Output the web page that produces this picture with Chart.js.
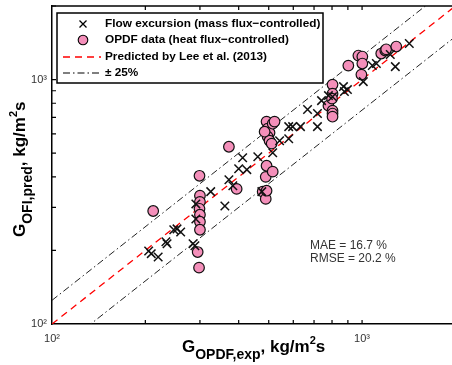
<!DOCTYPE html>
<html>
<head>
<meta charset="UTF-8">
<title>OPDF vs OFI</title>
<script src="https://cdn.jsdelivr.net/npm/chart.js"></script>
<style>
  body { margin: 0; background: #fff; }
  #wrap { width: 452px; height: 365px; }
</style>
</head>
<body>
<div id="wrap"><canvas id="chart"></canvas></div>
<script>
// Flow excursion (mass flux-controlled)
const crossX = [205, 209, 220, 233, 235, 247, 253, 260, 285, 289, 291, 291, 325, 361, 372, 383, 400, 412, 425, 461, 475, 515, 542, 580, 580, 597, 633, 667, 718, 718, 740, 779, 803, 871, 897, 877, 1009, 1079, 1112, 1233, 1280, 1420];
const crossY = [199, 194, 188, 217, 213, 243, 245, 238, 213, 209, 310, 269, 348, 304, 389, 368, 432, 479, 428, 483, 348, 502, 562, 573, 642, 642, 642, 754, 726, 642, 820, 860, 851, 936, 910, 893, 981, 1141, 1163, 1266, 1130, 1405];
// OPDF data (heat flux-controlled)
const circX = [212, 295, 298, 299, 300, 300, 299, 300, 300, 300, 372, 394, 478, 489, 492, 489, 492, 515, 492, 496, 503, 496, 503, 515, 522, 511, 485, 779, 803, 803, 800, 803, 803, 803, 903, 973, 1002, 1002, 995, 1153, 1188, 1196, 1289];
const circY = [290, 197, 170, 404, 335, 316, 296, 280, 262, 243, 531, 357, 348, 325, 351, 400, 444, 420, 673, 630, 606, 584, 562, 660, 673, 547, 612, 782, 954, 876, 836, 746, 726, 705, 1141, 1254, 1242, 1163, 1048, 1278, 1315, 1330, 1365];
// reference lines
const lineX = [100, 2000];
const predY = [100, 2000];
const upperY = [125, 2500];
const lowerY = [75, 1500];

const xTicks = [100, 200, 300, 400, 500, 600, 700, 800, 900, 1000];
const yTicks = [100, 200, 300, 400, 500, 600, 700, 800, 900, 1000, 2000];

function toPoints(xs, ys) {
    return xs.map((x, i) => ({ x: x, y: ys[i] }));
}
function tickLabel(v) {
    if (v === 100) return '10\u00b2';
    if (v === 1000) return '10\u00b3';
    return '';
}

const PINK = '#f48fba';
const FONT = '"Liberation Sans", Arial, sans-serif';

// inward tick marks + top border
const tickPlugin = {
    id: 'inTicks',
    afterDraw(chart) {
        const ctx = chart.ctx, a = chart.chartArea;
        const xs = chart.scales.x, ys = chart.scales.y;
        ctx.save();
        ctx.strokeStyle = '#000';
        ctx.lineWidth = 1.2;
        ctx.beginPath();
        xTicks.forEach(v => {
            if (v === 100) return;
            const px = xs.getPixelForValue(v);
            ctx.moveTo(px, a.bottom); ctx.lineTo(px, a.bottom - 4);
            ctx.moveTo(px, a.top); ctx.lineTo(px, a.top + 4);
        });
        yTicks.forEach(v => {
            if (v === 100 || v > ys.max) return;
            const py = ys.getPixelForValue(v);
            ctx.moveTo(a.left, py); ctx.lineTo(a.left + 4, py);
        });
        ctx.stroke();
        ctx.lineWidth = 1.5;
        ctx.beginPath();
        ctx.moveTo(a.left, a.top); ctx.lineTo(a.right, a.top);
        ctx.stroke();
        ctx.restore();
    }
};

// draws text pieces with sub/superscripts one after the other
function drawPieces(ctx, pieces, x, y) {
    let cx = x;
    pieces.forEach(p => {
        ctx.font = 'bold ' + p.size + 'px ' + FONT;
        ctx.fillText(p.t, cx, y + p.dy);
        cx += ctx.measureText(p.t).width;
    });
}

const titlePlugin = {
    id: 'axisTitles',
    afterDraw(chart) {
        const ctx = chart.ctx;
        ctx.save();
        ctx.fillStyle = '#000';
        ctx.textBaseline = 'alphabetic';
        ctx.textAlign = 'left';
        drawPieces(ctx, [
            { t: 'G', size: 17, dy: 0 },
            { t: 'OPDF,exp', size: 14, dy: 7 },
            { t: ', kg/m', size: 17, dy: 0 },
            { t: '2', size: 11, dy: -8 },
            { t: 's', size: 17, dy: 0 }
        ], 182, 352);
        ctx.translate(25, 237);
        ctx.rotate(-Math.PI / 2);
        drawPieces(ctx, [
            { t: 'G', size: 17, dy: 0 },
            { t: 'OFI,pred', size: 14, dy: 7 },
            { t: ', kg/m', size: 17, dy: 0 },
            { t: '2', size: 11, dy: -8 },
            { t: 's', size: 17, dy: 0 }
        ], 0, 0);
        ctx.restore();

        ctx.save();
        ctx.fillStyle = '#333';
        ctx.font = '12px ' + FONT;
        ctx.fillText('MAE = 16.7 %', 310, 249);
        ctx.fillText('RMSE = 20.2 %', 310, 262);
        ctx.restore();
    }
};

const legendPlugin = {
    id: 'boxLegend',
    afterDatasetsDraw(chart) {
        const ctx = chart.ctx;
        const bx = 57, by = 13, bw = 266, bh = 70;
        ctx.save();
        ctx.fillStyle = '#fff';
        ctx.fillRect(bx, by, bw, bh);
        ctx.strokeStyle = '#000';
        ctx.lineWidth = 1.5;
        ctx.strokeRect(bx, by, bw, bh);

        const rows = [24, 40, 57, 73];
        const mx = 83, tx = 105;
        // cross
        ctx.lineWidth = 1.3;
        ctx.beginPath();
        ctx.moveTo(mx - 3.5, rows[0] - 3.5); ctx.lineTo(mx + 3.5, rows[0] + 3.5);
        ctx.moveTo(mx + 3.5, rows[0] - 3.5); ctx.lineTo(mx - 3.5, rows[0] + 3.5);
        ctx.stroke();
        // circle
        ctx.beginPath();
        ctx.arc(mx, rows[1], 4.8, 0, Math.PI * 2);
        ctx.fillStyle = PINK;
        ctx.fill();
        ctx.lineWidth = 1.1;
        ctx.stroke();
        // red dashed
        ctx.strokeStyle = '#ff0000';
        ctx.lineWidth = 1.5;
        ctx.setLineDash([7, 5]);
        ctx.beginPath();
        ctx.moveTo(63, rows[2]); ctx.lineTo(101, rows[2]);
        ctx.stroke();
        // dash dot
        ctx.strokeStyle = '#000';
        ctx.lineWidth = 1.2;
        ctx.setLineDash([7, 3, 1.5, 3]);
        ctx.beginPath();
        ctx.moveTo(63, rows[3]); ctx.lineTo(101, rows[3]);
        ctx.stroke();
        ctx.setLineDash([]);

        ctx.fillStyle = '#000';
        ctx.textBaseline = 'middle';
        ctx.font = 'bold 11.8px ' + FONT;
        ctx.fillText('Flow excursion (mass flux\u2212controlled)', tx, rows[0]);
        ctx.fillText('OPDF data (heat flux\u2212controlled)', tx, rows[1]);
        ctx.fillText('Predicted by Lee et al. (2013)', tx, rows[2]);
        ctx.fillText('\u00b1 25%', tx, rows[3]);
        ctx.restore();
    }
};

new Chart(document.getElementById('chart'), {
    type: 'scatter',
    data: {
        datasets: [
            {
                label: 'Flow excursion (mass flux-controlled)',
                data: toPoints(crossX, crossY),
                pointStyle: 'crossRot',
                radius: 6,
                borderColor: '#111',
                borderWidth: 1.5,
                order: 1
            },
            {
                label: 'OPDF data (heat flux-controlled)',
                data: toPoints(circX, circY),
                pointStyle: 'circle',
                radius: 5.3,
                backgroundColor: PINK,
                borderColor: '#111',
                borderWidth: 1.2,
                order: 1
            },
            {
                label: 'Predicted by Lee et al. (2013)',
                type: 'line',
                data: toPoints(lineX, predY),
                borderColor: '#ff0000',
                borderWidth: 1.3,
                borderDash: [7, 5],
                pointRadius: 0,
                order: 3
            },
            {
                label: '+25%',
                type: 'line',
                data: toPoints(lineX, upperY),
                borderColor: '#222',
                borderWidth: 1,
                borderDash: [7, 3, 1.5, 3],
                pointRadius: 0,
                order: 3
            },
            {
                label: '-25%',
                type: 'line',
                data: toPoints(lineX, lowerY),
                borderColor: '#222',
                borderWidth: 1,
                borderDash: [7, 3, 1.5, 3],
                pointRadius: 0,
                order: 3
            }
        ]
    },
    options: {
        responsive: true,
        maintainAspectRatio: false,
        animation: false,
        layout: { autoPadding: false, padding: { top: 6, right: 0, left: 0, bottom: 0 } },
        plugins: {
            legend: { display: false },
            tooltip: { enabled: false }
        },
        scales: {
            x: {
                type: 'logarithmic',
                min: 100,
                max: 1950,
                afterBuildTicks: s => { s.ticks = xTicks.map(v => ({ value: v })); },
                afterFit: s => { s.height = 41; s.paddingLeft = 0; s.paddingRight = 0; },
                ticks: {
                    callback: tickLabel,
                    autoSkip: false,
                    maxRotation: 0,
                    padding: 8,
                    color: '#333',
                    font: { family: FONT, size: 11 }
                },
                grid: { display: false, drawTicks: false },
                border: { color: '#000', width: 1.5 }
            },
            y: {
                type: 'logarithmic',
                min: 100,
                max: 2000,
                afterBuildTicks: s => { s.ticks = yTicks.map(v => ({ value: v })); },
                afterFit: s => { s.width = 52; s.paddingTop = 0; s.paddingBottom = 0; },
                ticks: {
                    callback: tickLabel,
                    autoSkip: false,
                    padding: 5,
                    color: '#333',
                    font: { family: FONT, size: 11 }
                },
                grid: { display: false, drawTicks: false },
                border: { color: '#000', width: 1.5 }
            }
        }
    },
    plugins: [legendPlugin, tickPlugin, titlePlugin]
});
</script>
</body>
</html>
